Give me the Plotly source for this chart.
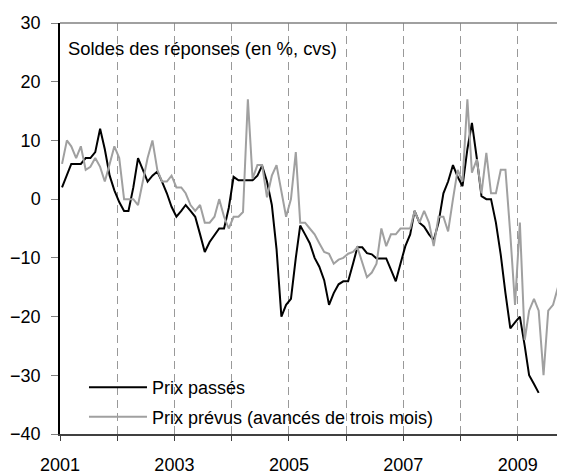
import pandas as pd
import plotly.graph_objects as go

# Monthly balances, starting January 2001
prix_passes = [
    2, 4, 6, 6, 6, 7, 7, 8, 12, 8.5, 4, 1.5,            # 2001
    -0.5, -2, -2, 2, 7, 5, 3, 4, 4.7, 3, 1, -1.3,       # 2002
    -3, -2, -1, -2, -3, -6, -9, -7.3, -6.2, -5, -5, -1.5,  # 2003
    3.8, 3.2, 3.2, 3.2, 3.2, 4, 5.7, 3, -1, -8.5, -20, -18,  # 2004
    -17, -10, -4.5, -6, -7.5, -10, -11.5, -13.8, -18, -16, -14.5, -14,  # 2005
    -14, -11, -8.2, -8.2, -9.2, -9.4, -10.1, -10.1, -10.1, -12, -14, -11,  # 2006
    -8, -6, -2, -4, -4.7, -6, -7, -4, 1, 3, 5.8, 3.8,   # 2007
    2.2, 8.5, 13, 7, 0.5, 0, 0, -4, -9.5, -16, -22, -21,  # 2008
    -20, -25, -30, -31.5, -33,                          # 2009
]
prix_prevus = [
    6, 10, 9, 7, 9, 5, 5.5, 7, 5.5, 3, 6, 9,            # 2001
    7, 0, 0, 0, -1, 3, 7, 10, 5, 3, 3, 4,               # 2002
    2, 2, 1, -1, -2, -1, -4, -4, -3, 0, -3, -5,         # 2003
    -3, -3, -2.2, 17, 3.5, 5.8, 5.8, 0.3, 4, 5.8, 1.5, -3,  # 2004
    0, 8, -4, -4, -5, -6, -7.5, -9, -9.3, -11, -10.3, -10,  # 2005
    -9.3, -9, -8.2, -11, -13.3, -12.5, -11, -5, -8, -6, -6, -5,  # 2006
    -5, -5, -2, -4, -2, -4, -8, -3, -3, -5.5, 0, 5,     # 2007
    3, 17, 4.5, 6.8, 1, 7.9, 1, 1, 5, 5, -6, -18,       # 2008
    -4, -24, -19, -17, -19, -30, -19, -18, -15,          # 2009
]
years = list(range(2001, 2010))
year_labels = [str(y) if y % 2 == 1 else "" for y in years]
y_ticks = [-40, -30, -20, -10, 0, 10, 20, 30]

def months(n):
    return pd.date_range("2001-01-01", periods=n, freq="MS") + pd.Timedelta(days=13)

FONT = "Liberation Sans, Arial, sans-serif"

fig = go.Figure()
fig.add_trace(go.Scatter(
    x=months(len(prix_passes)), y=prix_passes, mode="lines",
    name="Prix passés", legendgroup="a",
    line=dict(color="#000000", width=2),
))
fig.add_trace(go.Scatter(
    x=months(len(prix_prevus)), y=prix_prevus, mode="lines",
    name="Prix prévus (avancés de trois mois)", legendgroup="b",
    line=dict(color="#a0a0a0", width=2),
))

# page body has an 8px margin: figure is sized so the plot lands at the reference spot
fig.update_layout(
    width=557, height=467,
    margin=dict(l=52, r=0, t=15, b=41, autoexpand=False),
    paper_bgcolor="white", plot_bgcolor="white",
    font=dict(family=FONT, size=18, color="black"),
    showlegend=True,
    legend=dict(
        x=0.0475, y=0.158, xanchor="left", yanchor="top",
        bgcolor="rgba(0,0,0,0)", font=dict(size=18),
        tracegroupgap=3, itemwidth=58,
    ),
    xaxis=dict(
        type="date", automargin=False,
        range=["2001-01-01", "2009-10-29"],
        tickvals=[f"{y}-01-01" for y in years],
        ticktext=year_labels,
        showgrid=True, gridcolor="#999999", gridwidth=1, griddash="8px,5px",
        showline=True, linecolor="#404040", linewidth=1.5,
        ticks="outside", ticklen=5, tickcolor="#404040",
        ticklabelstandoff=9,
        zeroline=False,
    ),
    yaxis=dict(
        automargin=False,
        range=[-40, 30], tickvals=y_ticks,
        showgrid=False, zeroline=False,
        showline=True, linecolor="#000000", linewidth=1.5,
        ticks="outside", ticklen=7, tickcolor="#808080",
        ticklabelstandoff=7,
    ),
    shapes=[dict(type="line", xref="paper", yref="paper", x0=0, x1=1, y0=1, y1=1,
                 line=dict(color="#808080", width=1.5))],
    annotations=[dict(
        text="Soldes des réponses (en %, cvs)", xref="paper", yref="paper",
        x=0.012, y=0.937, xanchor="left", yanchor="middle", showarrow=False,
        font=dict(size=18.4, color="black"),
    )],
)

fig.write_html("out.html")
